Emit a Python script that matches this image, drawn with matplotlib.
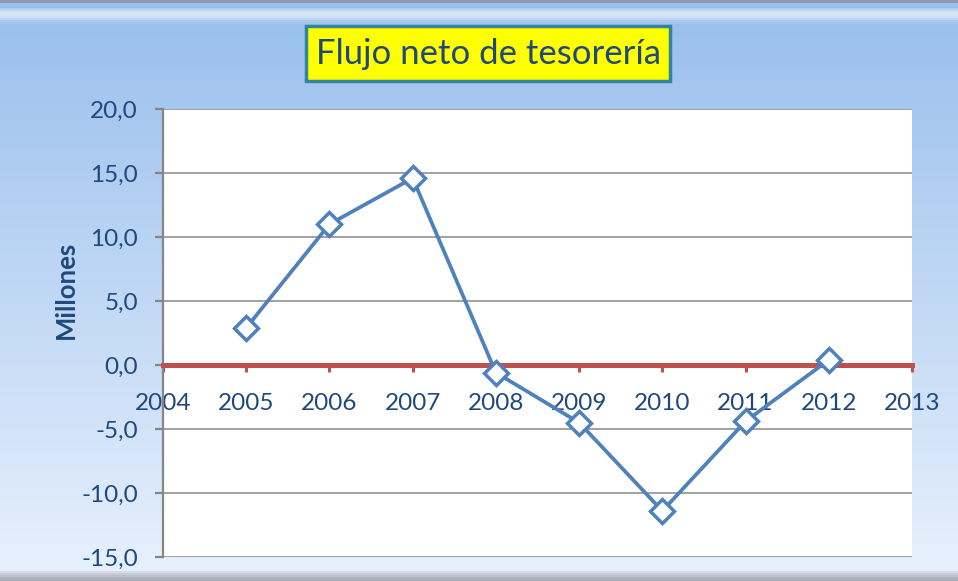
import numpy as np
import matplotlib
matplotlib.use("Agg")
import matplotlib.pyplot as plt
from matplotlib.patches import Rectangle
from matplotlib.ticker import FixedLocator, FixedFormatter

# ---- data ----
years = [2005, 2006, 2007, 2008, 2009, 2010, 2011, 2012]
flujo = [2.9, 11.0, 14.6, -0.6, -4.5, -11.4, -4.4, 0.4]
x_ticks = [2004, 2005, 2006, 2007, 2008, 2009, 2010, 2011, 2012, 2013]
x_tick_labels = [str(v) for v in x_ticks]
y_ticks = [-15, -10, -5, 0, 5, 10, 15, 20]
y_tick_labels = ["-15,0", "-10,0", "-5,0", "0,0", "5,0", "10,0", "15,0", "20,0"]
title = "Flujo neto de tesorería"
ylabel = "Millones"

plt.rcParams['font.family'] = ['Lato', 'DejaVu Sans']
navy = "#1F497D"
W, H = 958, 581
fig = plt.figure(figsize=(W / 100, H / 100), dpi=100)

# ---- background gradient ----
bg = fig.add_axes([0, 0, 1, 1], zorder=-10)
top_c = np.array([0x98, 0xBE, 0xEC]) / 255
bot_c = np.array([0xE8, 0xF1, 0xFD]) / 255
t = np.linspace(0, 1, 256)[:, None]
grad = top_c[None, :] * (1 - t) + bot_c[None, :] * t
grad = np.repeat(grad[:, None, :], 2, axis=1)
bg.imshow(grad, aspect='auto', extent=[0, 1, 0, 1], origin='upper')
# top shading & soft highlight, bottom shadow
bg.add_patch(Rectangle((0, 1 - 3 / H), 1, 3 / H, color="#8C9BB0", lw=0))
for i, a in enumerate([0.25, 0.45, 0.6, 0.6, 0.5, 0.35, 0.2, 0.1]):
    bg.add_patch(Rectangle((0, 1 - (8 + 2 * i + 2) / H), 1, 2 / H, color="white", lw=0, alpha=a))
for i, c in enumerate(["#D5DCE6", "#C6CDD8", "#B9C0CB", "#AEB4BE", "#A6ACB5"]):
    bg.add_patch(Rectangle((0, (10 - 2 * i - 2) / H), 1, 2 / H, color=c, lw=0))
bg.set_xlim(0, 1)
bg.set_ylim(0, 1)
bg.axis('off')

# ---- main axes ----
left, right, top, bottom = 163, 912, 109, 557
ax = fig.add_axes([left / W, 1 - bottom / H, (right - left) / W, (bottom - top) / H])
ax.set_facecolor("white")
ax.set_xlim(2004, 2013)
ax.set_ylim(-15, 20)

ax.plot(years, flujo, color="#4F81BD", lw=2.7, marker='D', markersize=12,
        markerfacecolor="white", markeredgecolor="#4F81BD", markeredgewidth=2.5,
        zorder=5, clip_on=False)

ax.yaxis.set_major_locator(FixedLocator(y_ticks))
ax.yaxis.set_major_formatter(FixedFormatter(y_tick_labels))
ax.xaxis.set_major_locator(FixedLocator(x_ticks))
ax.xaxis.set_major_formatter(FixedFormatter(x_tick_labels))

ax.grid(axis='y', color="#9A9A9A", lw=1.3)
ax.set_axisbelow(True)
for s in ['top', 'right']:
    ax.spines[s].set_visible(False)
ax.spines['left'].set_color("#868686")
ax.spines['left'].set_linewidth(1.6)
ax.spines['bottom'].set_position(('data', 0))
ax.spines['bottom'].set_color("#C0504D")
ax.spines['bottom'].set_linewidth(3.6)
ax.spines['bottom'].set_zorder(4)

ax.tick_params(axis='y', direction='out', length=6, width=1.6, color="#868686",
               labelsize=17.5, labelcolor=navy, pad=12)
ax.tick_params(axis='x', direction='out', length=5, width=2.2, color="#C0504D",
               labelsize=17.5, labelcolor=navy, pad=15)

fig.text(66 / W, 1 - 290 / H, ylabel, rotation=90, ha='center', va='center',
         fontsize=18.5, fontweight='bold', color=navy)

# ---- title box ----
bx0, by0, bx1, by1 = 306, 26, 670, 81
fig.patches.append(Rectangle((bx0 / W, 1 - by1 / H), (bx1 - bx0) / W, (by1 - by0) / H,
                             transform=fig.transFigure, facecolor="#FFFF00",
                             edgecolor="#31859C", lw=2.5, zorder=5))
fig.text((bx0 + bx1) / 2 / W, 1 - (by0 + by1) / 2 / H, title, ha='center', va='center',
         fontsize=25, color=navy, zorder=6)

fig.savefig("out.png", dpi=100)
